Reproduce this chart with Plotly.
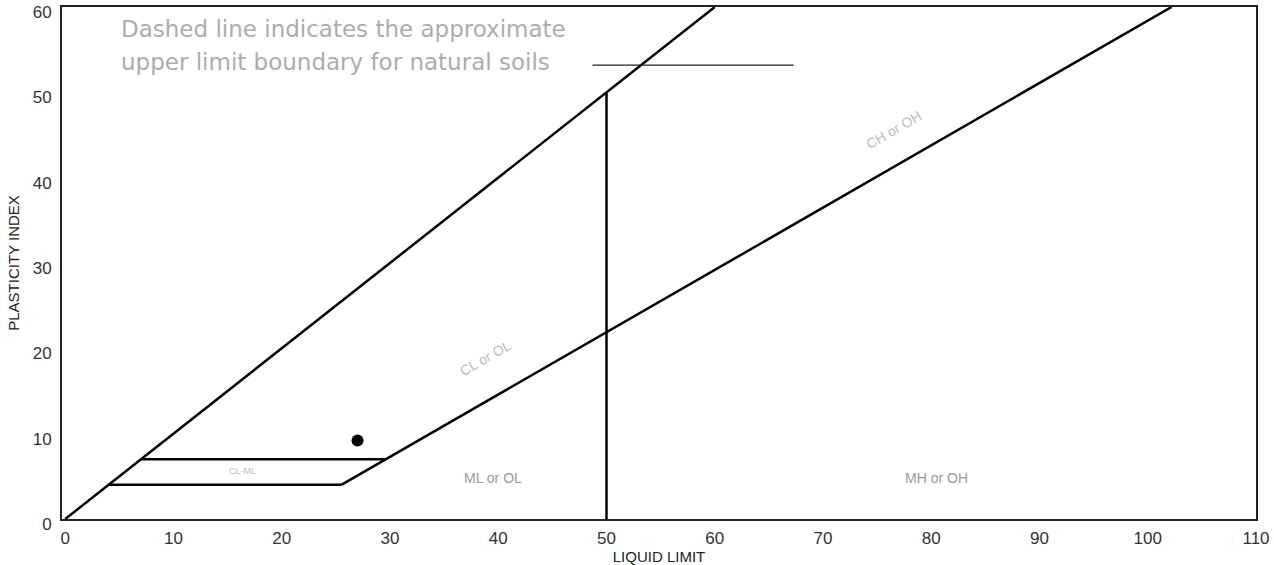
import plotly.graph_objects as go

# Boundary lines (Liquid Limit, Plasticity Index)
upper_ll = [0, 60]
upper_pi = [0, 60]
a_line_ll = [25.5, 102.2]
a_line_pi = [4, 60]
ll50_ll = [50, 50]
ll50_pi = [0, 50]
clml_top_ll = [7, 29.6]
clml_top_pi = [7, 7]
clml_bot_ll = [4, 25.5]
clml_bot_pi = [4, 4]
natural_ll = [48.7, 67.3]
natural_pi = [53.2, 53.2]

# Sample
sample_ll = [27]
sample_pi = [9.2]

x_ticks = [0, 10, 20, 30, 40, 50, 60, 70, 80, 90, 100, 110]
y_ticks = [0, 10, 20, 30, 40, 50, 60]

fig = go.Figure()
line_style = dict(color="black", width=2.5)
for xs, ys in [(upper_ll, upper_pi), (a_line_ll, a_line_pi), (ll50_ll, ll50_pi),
               (clml_top_ll, clml_top_pi), (clml_bot_ll, clml_bot_pi)]:
    fig.add_trace(go.Scatter(x=xs, y=ys, mode="lines", line=line_style,
                             hoverinfo="skip", showlegend=False, cliponaxis=False))
fig.add_trace(go.Scatter(x=natural_ll, y=natural_pi, mode="lines",
                         line=dict(color="#222", width=1.3), showlegend=False))
fig.add_trace(go.Scatter(x=sample_ll, y=sample_pi, mode="markers",
                         marker=dict(color="black", size=12), showlegend=False))

grey = "#9a9a9a"
ann = [
    dict(x=5, y=57.4, text="Dashed line indicates the approximate", xanchor="left",
         font=dict(family="DejaVu Sans", size=23, color="#acacac")),
    dict(x=5, y=53.6, text="upper limit boundary for natural soils", xanchor="left",
         font=dict(family="DejaVu Sans", size=23, color="#acacac")),
    dict(x=39.5, y=4.8, text="ML or OL", font=dict(family="Arial", size=14, color=grey)),
    dict(x=80.5, y=4.8, text="MH or OH", font=dict(family="Arial", size=14, color=grey)),
    dict(x=38.8, y=18.9, text="CL or OL", textangle=-30,
         font=dict(family="Arial", size=14, color="#bbbbbb")),
    dict(x=76.5, y=45.6, text="CH or OH", textangle=-30,
         font=dict(family="Arial", size=14, color="#bbbbbb")),
    dict(x=16.4, y=5.6, text="CL-ML", font=dict(family="Arial", size=9, color="#bbbbbb")),
]
for a in ann:
    a.update(xref="x", yref="y", showarrow=False)
    fig.add_annotation(**a)

fig.update_layout(
    width=1274, height=565,
    margin=dict(l=62, r=18, t=7, b=46),
    plot_bgcolor="white", paper_bgcolor="white",
    font=dict(family="Arial", color="#222"),
)
fig.update_xaxes(range=[-0.3, 110], tickvals=x_ticks, showgrid=False, zeroline=False,
                 showline=True, linecolor="#222", linewidth=2, mirror=True,
                 tickfont=dict(size=17, color="#333"), ticks="", automargin=False,
                 ticklabelstandoff=3, ticklabeloverflow="allow",
                 title=dict(text="LIQUID LIMIT", font=dict(size=15), standoff=0))
fig.update_yaxes(range=[0, 60], tickvals=y_ticks, showgrid=False, zeroline=False,
                 showline=True, linecolor="#222", linewidth=2, mirror=True,
                 tickfont=dict(size=17, color="#333"), ticks="", automargin=False,
                 ticklabelstandoff=5, ticklabeloverflow="allow", ticklabelshift=5,
                 title=dict(text="PLASTICITY INDEX", font=dict(size=15), standoff=9))

fig.write_html("out.html", config={"displayModeBar": False},
               post_script="document.body.style.margin='0px';document.body.style.overflow='hidden';")
